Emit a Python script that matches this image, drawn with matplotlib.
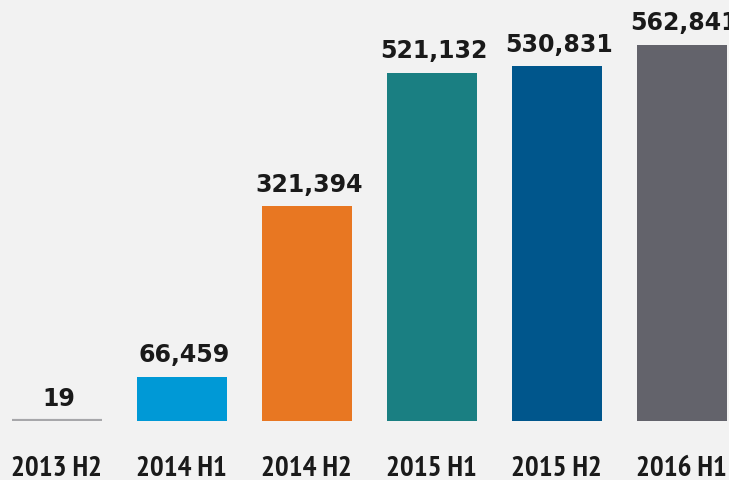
import matplotlib
matplotlib.use("Agg")
import matplotlib.pyplot as plt

categories = ["2013 H2", "2014 H1", "2014 H2", "2015 H1", "2015 H2", "2016 H1"]
values = [19, 66459, 321394, 521132, 530831, 562841]
labels = ["19", "66,459", "321,394", "521,132", "530,831", "562,841"]
colors = ["#a7a7aa", "#0099d6", "#e87722", "#1a7f82", "#00568c", "#63636b"]

W, H = 729, 480
fig = plt.figure(figsize=(W / 100, H / 100), dpi=100)
fig.patch.set_facecolor("#f2f2f2")
ax = fig.add_axes([0, 59 / H, 1, 421 / H])
ax.set_facecolor("#f2f2f2")

x = list(range(len(categories)))
bars = ax.bar(x, values, width=0.72, color=colors, linewidth=0)
# tiny first bar drawn as a visible line
bars[0].set_edgecolor(colors[0])
bars[0].set_linewidth(3)

ymax = 421 / 376 * 562841
ax.set_ylim(0, ymax)
x0 = -56.5 / 125
ax.set_xlim(x0, x0 + W / 125)

for xi, v, lab in zip(x, values, labels):
    ax.annotate(lab, (xi, v), xytext=(2, 10.5), textcoords="offset points",
                ha="center", va="baseline", fontsize=17, fontweight="bold",
                color="#1a1a1a", family=["DejaVu Sans"])

ax.set_xticks(x)
ax.set_xticklabels(categories, fontsize=21, fontweight="bold", color="#1a1a1a",
                   family=["PT Sans Narrow", "Roboto Condensed", "DejaVu Sans"])
ax.tick_params(axis="x", length=0, pad=25)
ax.set_yticks([])
for s in ax.spines.values():
    s.set_visible(False)

fig.savefig("out.png", dpi=100, facecolor=fig.get_facecolor())
